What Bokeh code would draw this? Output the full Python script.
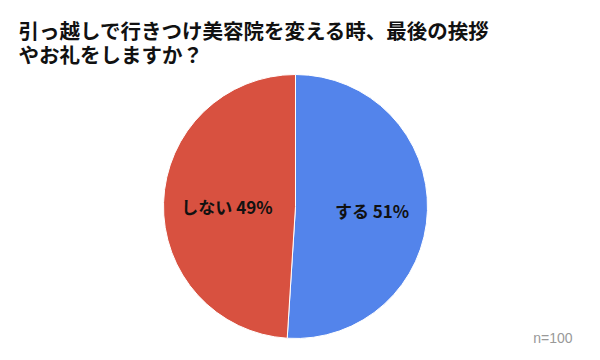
import math
from bokeh.plotting import figure
from bokeh.models import ColumnDataSource
from bokeh.core.properties import value
from bokeh.embed import file_html
from bokeh.resources import INLINE

title_lines = ["引っ越しで行きつけ美容院を変える時、最後の挨拶", "やお礼をしますか？"]
categories = ["する", "しない"]
values = [51, 49]
colors = ["#5384EB", "#D85140"]
note = "n=100"

W, H = 584, 344
p = figure(width=W, height=H, x_range=(0, W), y_range=(0, H),
           output_backend="svg", toolbar_location=None, min_border=0)
p.axis.visible = False
p.grid.visible = False
p.outline_line_color = None

cx, cy, R = 295, H - 206, 132
total = sum(values)
starts, ends, lx, ly, labels = [], [], [], [], []
a = math.pi / 2
for c, v in zip(categories, values):
    span = 2 * math.pi * v / total
    starts.append(a - span)
    ends.append(a)
    mid = a - span / 2
    lx.append(cx + 4 + 0.55 * R * math.cos(mid))
    ly.append(cy - 2 + 0.55 * R * math.sin(mid))
    labels.append(f"{c} {v}%")
    a -= span

src = ColumnDataSource(dict(start=starts, end=ends, color=colors, lx=lx, ly=ly, label=labels))
p.wedge(x=cx, y=cy, radius=R, start_angle="start", end_angle="end",
        fill_color="color", line_color="white", line_width=1, source=src)
p.text(x="lx", y="ly", text="label", source=src, text_align="center", text_baseline="middle",
       text_font=value("Noto Sans CJK JP"), text_font_style="bold", text_font_size="17px",
       text_color="#111111")

p.text(x=[18, 18], y=[H - 29, H - 53], text=title_lines, text_align="left", text_baseline="middle",
       text_font=value("Noto Sans CJK JP"), text_font_style="bold", text_font_size="20.5px",
       text_color="#111111")
p.text(x=[572], y=[H - 337], text=[note], text_align="right", text_baseline="middle",
       text_font=value("Liberation Sans"), text_font_size="14px", text_color="#999999")

open("out.html", "w").write(file_html(p, INLINE))
